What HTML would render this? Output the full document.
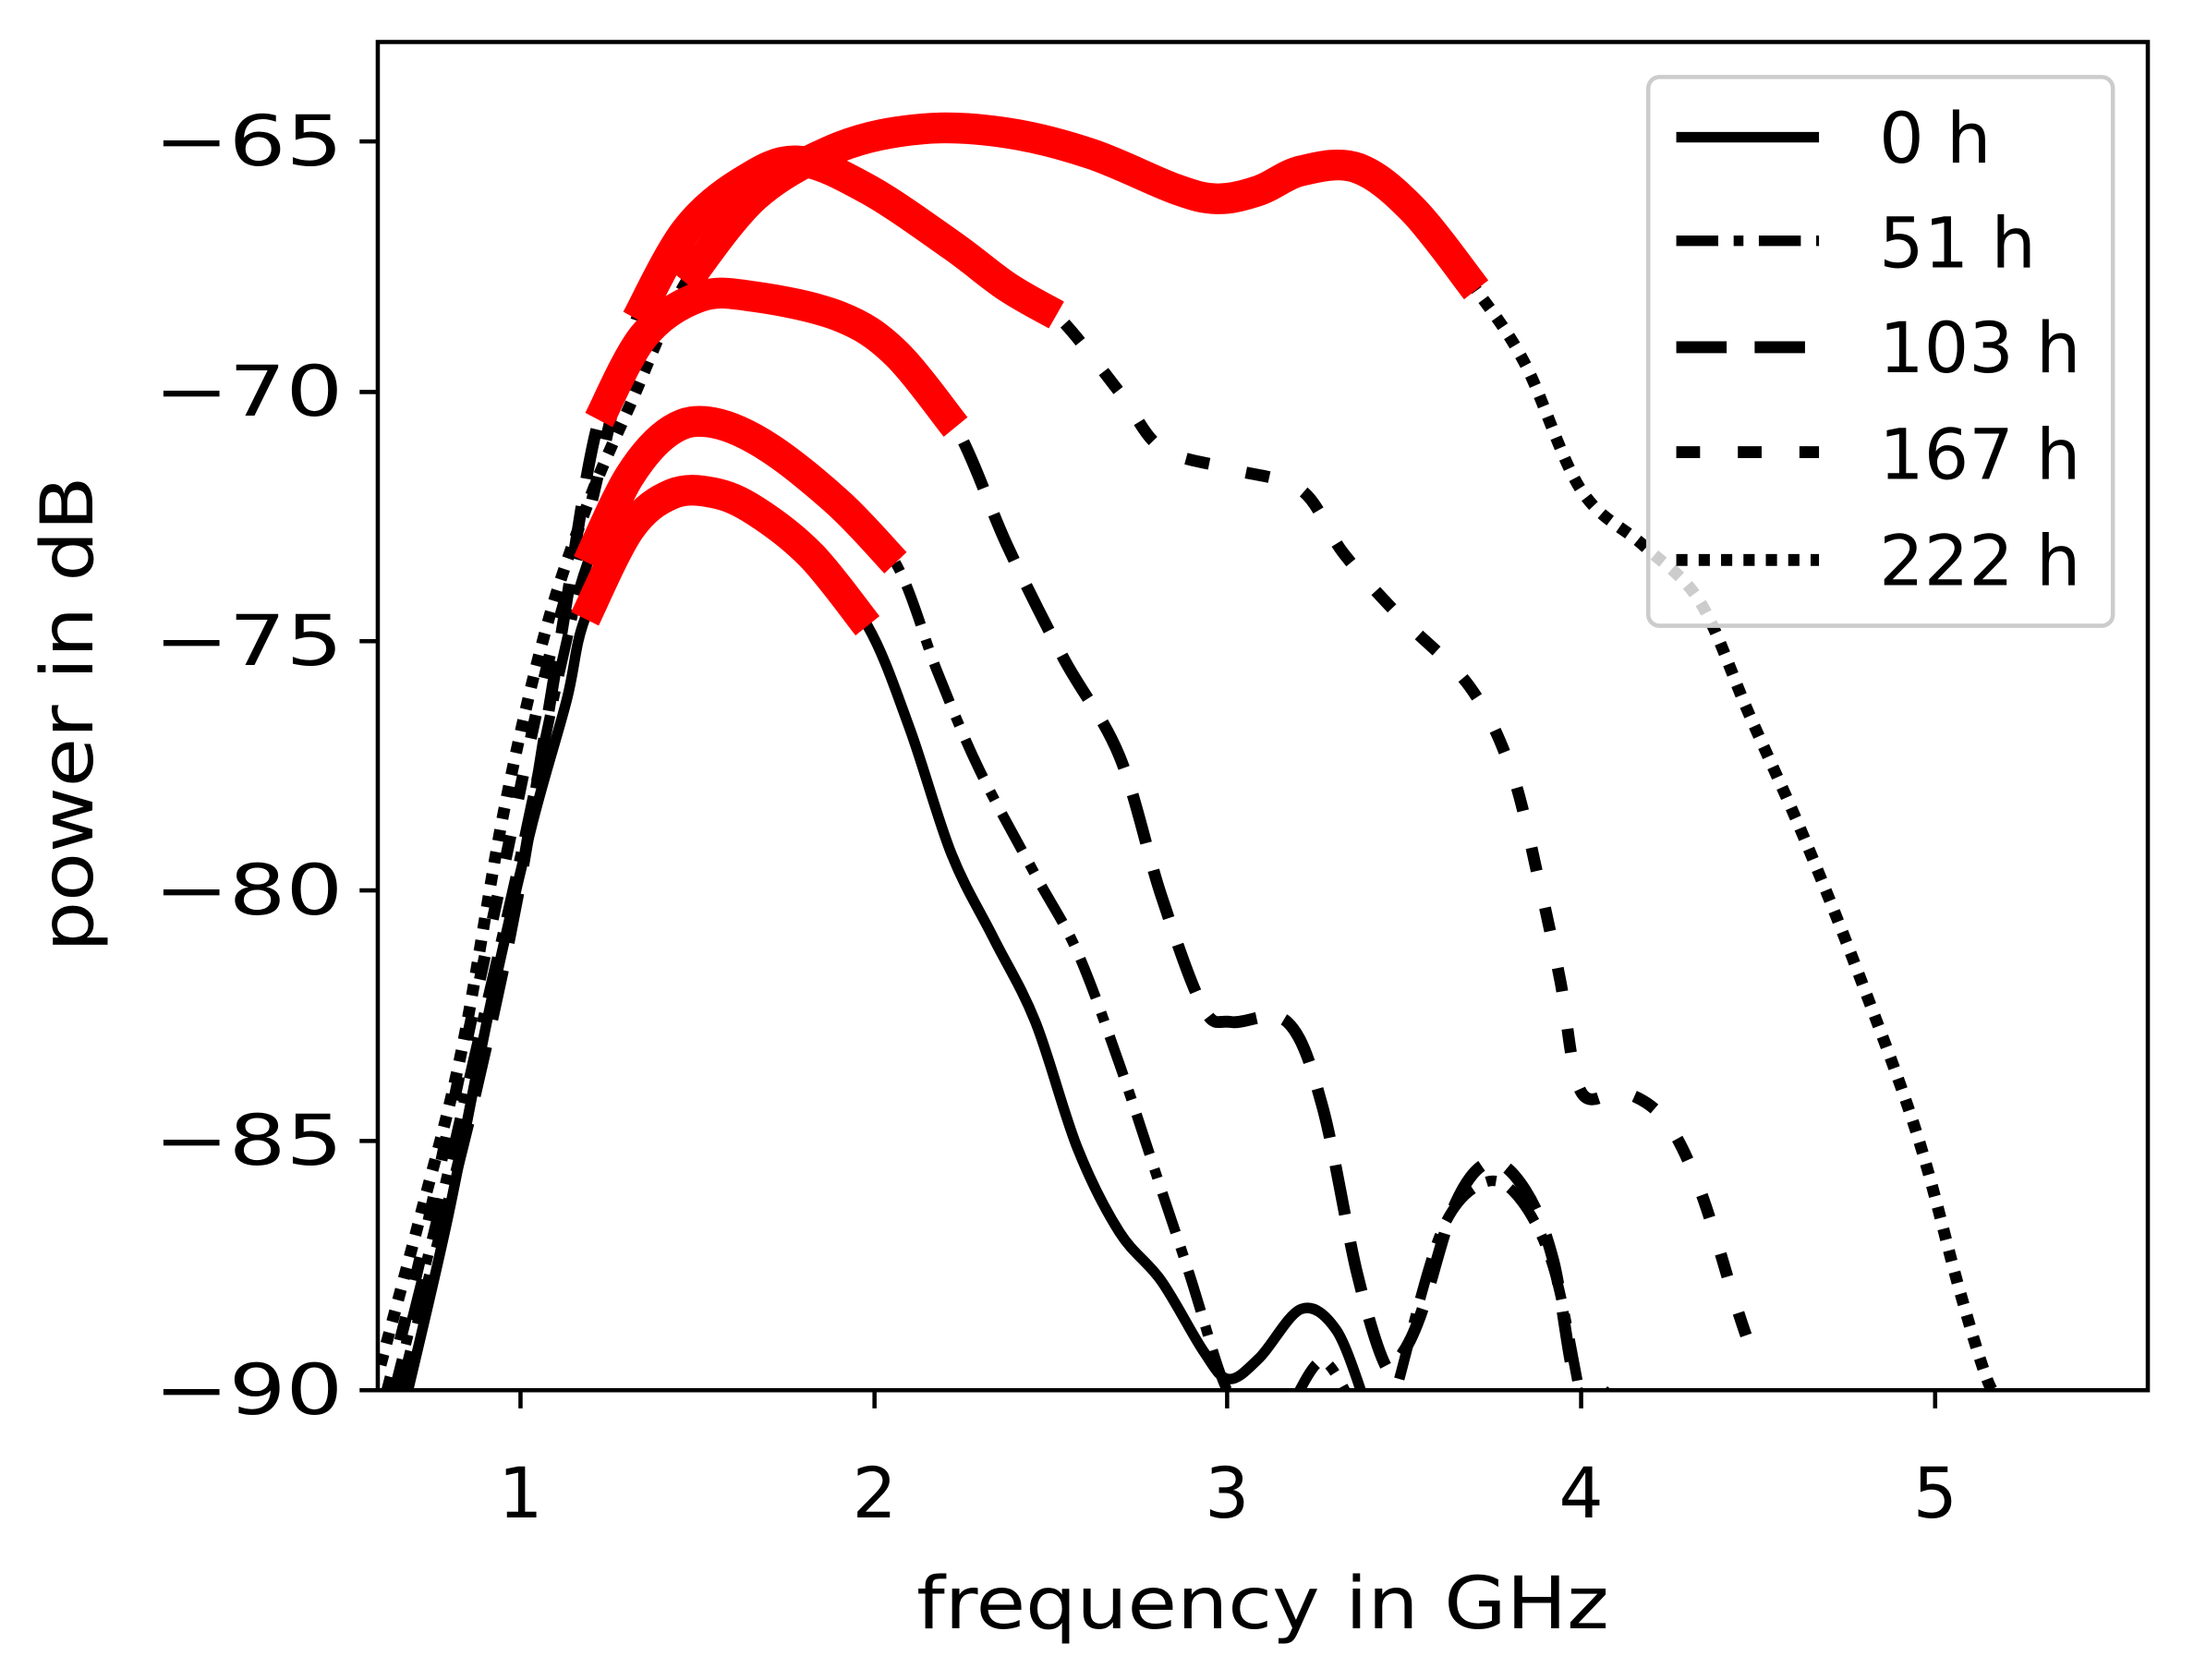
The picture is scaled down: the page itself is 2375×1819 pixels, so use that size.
<!DOCTYPE html>
<html><head><meta charset="utf-8"><style>
html,body{margin:0;padding:0;background:#fff;}
svg{display:block;}
text{font-family:"DejaVu Sans","Liberation Sans",sans-serif;fill:#000;}
</style></head><body>
<svg id="s" width="2375" height="1819" viewBox="0 0 1568 1200" preserveAspectRatio="none" xmlns="http://www.w3.org/2000/svg">
<defs><clipPath id="c"><rect x="270" y="30" width="1265" height="963"/></clipPath></defs>
<rect width="1568" height="1200" fill="#fff"/>
<g clip-path="url(#c)" fill="none" stroke-linejoin="round">
<path class="sm" stroke="#000" stroke-width="7.5" data-p="290,1000 320,870 350,720 380,590 405,500 418,442 450,378 480,353 510,352 540,365 580,397 620,447 650,520 680,610 710,670 740,730 770,820 800,880 830,915 860,965 878,985 900,970 930,935 955,950 975,1000"/>
<path class="sm" stroke="#000" stroke-width="7.5" stroke-dasharray="30 11 7 11" data-p="280,1000 310,880 340,750 370,620 400,480 420,402 450,340 480,307 510,302 550,320 600,360 640,402 670,480 700,550 740,625 770,680 800,760 830,850 850,910 870,975 880,1000"/>
<path class="sm" stroke="#000" stroke-width="7.5" stroke-dasharray="30 11 7 11" data-p="925,1000 945,972 965,1000"/>
<path class="sm" stroke="#000" stroke-width="7.5" stroke-dasharray="30 11 7 11" data-p="1000,985 1030,880 1060,845 1085,855 1110,905 1130,1000"/>
<path class="sm" stroke="#000" stroke-width="8.5" stroke-dasharray="36 20" data-p="285,1000 310,900 340,780 370,640 400,460 428,300 460,240 500,212 540,212 600,226 640,252 683,305 720,390 760,470 800,540 830,640 860,720 880,730 920,730 945,790 970,910 990,975 1000,970 1015,940 1040,860 1065,830 1090,850 1110,900 1130,1000 1160,985"/>
<path class="sm" stroke="#000" stroke-width="8.5" stroke-dasharray="17 27" data-p="275,1000 300,900 330,760 360,620 390,480 420,370 455,228 490,165 530,130 570,115 620,135 680,175 720,205 755,225 800,280 830,320 880,335 930,350 960,395 1000,440 1050,490 1080,550 1100,630 1115,700 1130,780 1160,780 1190,800 1215,850 1240,930 1250,960"/>
<path class="sm" stroke="#000" stroke-width="8.5" stroke-dasharray="8 8" data-p="272,975 300,870 330,750 360,580 390,450 420,360 450,290 490,202 540,140 600,105 660,92 720,95 780,110 840,135 870,142 900,136 930,122 970,120 1010,150 1055,207 1090,260 1130,350 1175,390 1215,430 1250,510 1290,600 1330,700 1370,810 1400,920 1420,985 1430,1000"/>
<g stroke="#ff0000" stroke-width="22">
<path class="sm" data-p="418,442 450,378 480,353 510,352 540,365 580,397 620,447"/>
<path class="sm" data-p="420,402 450,340 480,307 510,302 550,320 600,360 640,402"/>
<path class="sm" data-p="428,300 460,240 500,212 540,212 600,226 640,252 683,305"/>
<path class="sm" data-p="455,228 490,165 530,130 570,115 620,135 680,175 720,205 755,225"/>
<path class="sm" data-p="490,202 540,140 600,105 660,92 720,95 780,110 840,135 870,142 900,136 930,122 970,120 1010,150 1055,207"/>
</g>
</g>
<rect x="270" y="30" width="1265" height="963" fill="none" stroke="#000" stroke-width="3"/>
<g stroke="#000" stroke-width="3">
<line x1="372" y1="993" x2="372" y2="1006"/><line x1="625" y1="993" x2="625" y2="1006"/><line x1="877" y1="993" x2="877" y2="1006"/><line x1="1130" y1="993" x2="1130" y2="1006"/><line x1="1383" y1="993" x2="1383" y2="1006"/>
<line x1="257" y1="101" x2="270" y2="101"/><line x1="257" y1="280" x2="270" y2="280"/><line x1="257" y1="458" x2="270" y2="458"/><line x1="257" y1="636" x2="270" y2="636"/><line x1="257" y1="815" x2="270" y2="815"/><line x1="257" y1="993" x2="270" y2="993"/>
</g>
<g font-size="50" text-anchor="middle">
<text x="372" y="1084">1</text><text x="625" y="1084">2</text><text x="877" y="1084">3</text><text x="1130" y="1084">4</text><text x="1383" y="1084">5</text>
</g>
<g font-size="50">
<text x="110" y="118" textLength="135" lengthAdjust="spacingAndGlyphs">−65</text>
<text x="110" y="297" textLength="135" lengthAdjust="spacingAndGlyphs">−70</text>
<text x="110" y="475" textLength="135" lengthAdjust="spacingAndGlyphs">−75</text>
<text x="110" y="653" textLength="135" lengthAdjust="spacingAndGlyphs">−80</text>
<text x="110" y="832" textLength="135" lengthAdjust="spacingAndGlyphs">−85</text>
<text x="110" y="1010" textLength="135" lengthAdjust="spacingAndGlyphs">−90</text>
</g>
<text x="655" y="1163" font-size="52" textLength="495" lengthAdjust="spacingAndGlyphs">frequency in GHz</text>
<text transform="translate(66,680) rotate(-90)" font-size="52" textLength="340" lengthAdjust="spacingAndGlyphs">power in dB</text>
<rect x="1178" y="55" width="332" height="392" rx="8" fill="#fff" fill-opacity="0.8" stroke="#ccc" stroke-width="3"/>
<g fill="none">
<line x1="1198" y1="98" x2="1300" y2="98" stroke="#000" stroke-width="7.5"/>
<line x1="1198" y1="172" x2="1300" y2="172" stroke="#000" stroke-width="7.5" stroke-dasharray="30 11 7 11"/>
<line x1="1198" y1="248" x2="1300" y2="248" stroke="#000" stroke-width="8.5" stroke-dasharray="36 20"/>
<line x1="1198" y1="323" x2="1300" y2="323" stroke="#000" stroke-width="8.5" stroke-dasharray="17 27"/>
<line x1="1198" y1="400" x2="1300" y2="400" stroke="#000" stroke-width="8.5" stroke-dasharray="8 8"/>
</g>
<g font-size="50">
<text x="1343" y="116" textLength="80" lengthAdjust="spacingAndGlyphs">0 h</text>
<text x="1343" y="191" textLength="112" lengthAdjust="spacingAndGlyphs">51 h</text>
<text x="1343" y="266" textLength="144" lengthAdjust="spacingAndGlyphs">103 h</text>
<text x="1343" y="342" textLength="144" lengthAdjust="spacingAndGlyphs">167 h</text>
<text x="1343" y="418" textLength="144" lengthAdjust="spacingAndGlyphs">222 h</text>
</g>
</svg>
<script>
document.querySelectorAll('.sm').forEach(function(el){
 var p=el.getAttribute('data-p').trim().split(/\s+/).map(function(s){return s.split(',').map(Number);});
 var d='M'+p[0][0]+','+p[0][1];
 for(var i=0;i<p.length-1;i++){
  var p0=p[i-1]||p[i],p1=p[i],p2=p[i+1],p3=p[i+2]||p2;
  var c1x=p1[0]+(p2[0]-p0[0])/6,c1y=p1[1]+(p2[1]-p0[1])/6;
  var c2x=p2[0]-(p3[0]-p1[0])/6,c2y=p2[1]-(p3[1]-p1[1])/6;
  d+=' C'+c1x.toFixed(1)+','+c1y.toFixed(1)+' '+c2x.toFixed(1)+','+c2y.toFixed(1)+' '+p2[0]+','+p2[1];
 }
 el.setAttribute('d',d);
});
</script>
</body></html>
